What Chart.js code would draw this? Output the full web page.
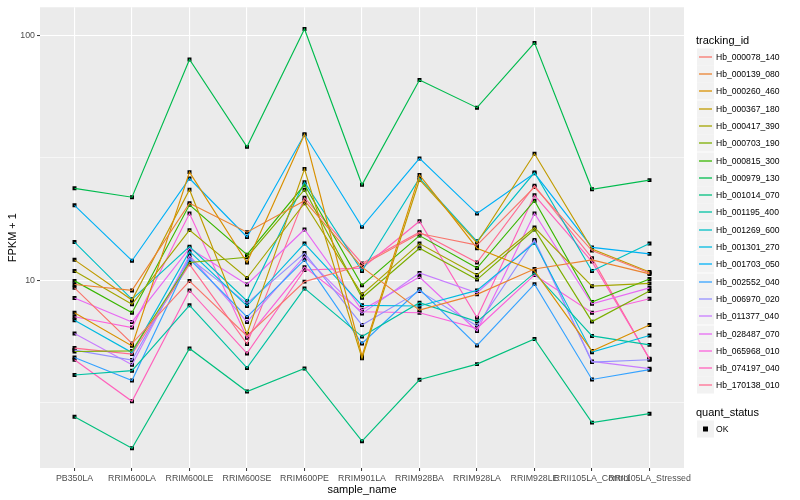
<!DOCTYPE html>
<html>
<head>
<meta charset="utf-8">
<title>FPKM by sample</title>
<script src="https://cdn.jsdelivr.net/npm/chart.js@4.4.1/dist/chart.umd.min.js"></script>
<style>
  body { margin: 0; background: #fff; font-family: "Liberation Sans", Arial, sans-serif; }
  #wrap { position: relative; width: 800px; height: 500px; }
  #legend { position: absolute; left: 696px; top: 0; width: 104px; height: 500px; }
  .ttl { position: absolute; left: 0; font-size: 11px; color: #000; line-height: 12px; }
  .lab { position: absolute; left: 20px; font-size: 8.6px; color: #000; line-height: 10px; }
</style>
</head>
<body>
<div id="wrap">
  <canvas id="grafica" width="800" height="500"></canvas>
  <div id="legend"></div>
</div>
<script>
// categorias del eje x
const sampleNames = ['PB350LA', 'RRIM600LA', 'RRIM600LE', 'RRIM600SE', 'RRIM600PE', 'RRIM901LA',
  'RRIM928BA', 'RRIM928LA', 'RRIM928LE', 'RRII105LA_Control', 'RRII105LA_Stressed'];

const trackingIds = ['Hb_000078_140', 'Hb_000139_080', 'Hb_000260_460', 'Hb_000367_180', 'Hb_000417_390',
  'Hb_000703_190', 'Hb_000815_300', 'Hb_000979_130', 'Hb_001014_070', 'Hb_001195_400', 'Hb_001269_600',
  'Hb_001301_270', 'Hb_001703_050', 'Hb_002552_040', 'Hb_006970_020', 'Hb_011377_040', 'Hb_028487_070',
  'Hb_065968_010', 'Hb_074197_040', 'Hb_170138_010'];

const lineColors = ['#F8766D', '#EA8331', '#D89000', '#C09B00', '#A3A500', '#7CAE00', '#39B600', '#00BB4E',
  '#00BF7D', '#00C1A3', '#00BFC4', '#00BAE0', '#00B0F6', '#35A2FF', '#9590FF', '#C77CFF', '#E76BF3',
  '#FA62DB', '#FF62BC', '#FF6C91'];

// FPKM + 1 por muestra (mismo orden que sampleNames)
const hb000078 = [9.30, 5.51, 9.91, 5.92, 9.86, 11.5, 15.5, 13.9, 24.0, 13.2, 10.7];
const hb000139 = [9.60, 9.08, 20.6, 15.7, 21.1, 11.3, 7.54, 8.75, 11.1, 12.1, 10.6];
const hb000260 = [7.36, 5.39, 27.6, 11.8, 39.3, 4.90, 26.9, 13.5, 10.9, 5.14, 6.56];
const hb000367 = [12.1, 8.29, 23.4, 6.03, 28.4, 4.80, 25.7, 14.2, 32.8, 13.4, 10.8];
const hb000417 = [10.9, 7.97, 16.0, 10.2, 20.6, 8.75, 14.1, 10.5, 16.4, 9.45, 9.70];
const hb000703 = [5.11, 5.14, 11.8, 12.4, 23.4, 8.47, 13.5, 10.05, 16.1, 6.77, 9.02];
const hb000815 = [9.93, 7.36, 20.3, 12.7, 24.5, 9.52, 15.2, 11.2, 21.1, 8.14, 10.1];
const hb000979 = [23.7, 21.8, 79.6, 35.0, 106, 24.5, 65.6, 50.6, 93.0, 23.5, 25.6];
const hb001014 = [2.77, 2.06, 5.26, 3.51, 4.36, 2.20, 3.92, 4.54, 5.75, 2.62, 2.85];
const hb001195 = [4.10, 4.27, 7.89, 4.38, 9.25, 5.88, 8.09, 6.77, 10.7, 5.92, 5.44];
const hb001269 = [14.3, 8.35, 13.7, 8.22, 25.1, 10.9, 26.1, 14.4, 27.5, 10.9, 14.1];
const hb001301 = [6.86, 5.06, 13.1, 7.84, 14.1, 7.89, 7.84, 9.08, 14.2, 5.08, 5.94];
const hb001703 = [20.2, 12.0, 26.0, 15.0, 39.3, 16.5, 31.4, 18.7, 27.3, 13.6, 12.8];
const hb002552 = [4.83, 3.89, 12.2, 7.07, 12.1, 5.51, 9.17, 5.41, 9.63, 3.93, 4.31];
const hb006970 = [5.18, 4.72, 12.3, 8.04, 12.9, 6.56, 9.02, 6.50, 14.6, 4.63, 4.73];
const hb011377 = [6.05, 4.51, 12.6, 6.75, 12.5, 7.30, 10.7, 8.88, 14.4, 4.66, 4.35];
const hb028487 = [8.45, 6.75, 13.5, 9.60, 16.1, 7.55, 10.3, 6.20, 18.7, 8.01, 9.30];
const hb065968 = [7.09, 6.40, 18.7, 5.81, 11.3, 7.43, 7.36, 6.36, 10.5, 7.36, 8.39];
const hb074197 = [4.73, 3.20, 9.08, 5.02, 11.0, 11.2, 17.4, 7.03, 22.2, 11.9, 4.78];
const hb170138 = [5.28, 4.99, 11.6, 5.49, 21.7, 11.7, 15.7, 11.8, 24.3, 12.3, 4.75];

const seriesValues = [hb000078, hb000139, hb000260, hb000367, hb000417, hb000703, hb000815, hb000979,
  hb001014, hb001195, hb001269, hb001301, hb001703, hb002552, hb006970, hb011377, hb028487,
  hb065968, hb074197, hb170138];

const yTicks = [Math.sqrt(10), 10, Math.sqrt(1000), 100];

// Datasets: una linea por tracking_id y al final los puntos (quant_status OK)
let datasets = [];
let allPoints = [];
for (let s = 0; s < seriesValues.length; s++) {
    const pts = seriesValues[s].map((v, i) => ({ x: i, y: v }));
    allPoints = allPoints.concat(pts);
    datasets.push({
        type: 'line',
        label: trackingIds[s],
        data: pts,
        borderColor: lineColors[s],
        borderWidth: 1.15,
        pointRadius: 0,
        tension: 0,
        fill: false
    });
}
datasets.push({
    type: 'scatter',
    label: 'OK',
    data: allPoints,
    pointStyle: 'rect',
    pointRadius: 2.8,
    pointBorderWidth: 0,
    pointBackgroundColor: '#000',
    borderColor: '#000'
});

// fondo gris del panel + cajas de la leyenda
const panelBg = {
    id: 'panelBg',
    beforeDraw(chart) {
        const a = chart.chartArea, ctx = chart.ctx;
        ctx.save();
        ctx.fillStyle = '#EBEBEB';
        ctx.fillRect(a.left, a.top, a.right - a.left, a.bottom - a.top);
        ctx.restore();
    },
    afterDraw(chart) {
        const ctx = chart.ctx;
        ctx.save();
        for (let i = 0; i < trackingIds.length; i++) {
            const cy = Math.round(56.7 + 17.3 * i);
            ctx.fillStyle = '#F2F2F2';
            ctx.fillRect(697, cy - 8.5, 17, 17);
            ctx.strokeStyle = lineColors[i];
            ctx.lineWidth = 1.3;
            ctx.beginPath();
            ctx.moveTo(699, cy);
            ctx.lineTo(712, cy);
            ctx.stroke();
        }
        ctx.fillStyle = '#F2F2F2';
        ctx.fillRect(697, 420.5, 17, 17);
        ctx.fillStyle = '#000';
        ctx.fillRect(703, 426.5, 5, 5);
        ctx.restore();
    }
};

const font = { family: '"Liberation Sans", Arial, sans-serif' };

new Chart(document.getElementById('grafica'), {
    data: { datasets: datasets },
    plugins: [panelBg],
    options: {
        responsive: false,
        animation: false,
        layout: { padding: { top: 5, right: 116, left: 2, bottom: 0 } },
        plugins: { legend: { display: false }, tooltip: { enabled: false } },
        scales: {
            x: {
                type: 'linear',
                min: -0.6,
                max: 10.6,
                afterBuildTicks: (scale) => { scale.ticks = sampleNames.map((n, i) => ({ value: i })); },
                afterFit: (scale) => { scale.height = 32; },
                ticks: {
                    autoSkip: false, maxRotation: 0, minRotation: 0, padding: 2,
                    color: '#4D4D4D', font: { ...font, size: 8.8 },
                    callback: (v) => sampleNames[v]
                },
                grid: { color: '#FFFFFF', lineWidth: 1.1, tickLength: 3, tickColor: '#333333', tickWidth: 1 },
                border: { display: false },
                title: { display: true, text: 'sample_name', color: '#000', font: { ...font, size: 11 }, padding: { top: 0, bottom: 3 } }
            },
            y: {
                type: 'logarithmic',
                min: 1.71,
                max: 130,
                afterBuildTicks: (scale) => { scale.ticks = yTicks.map(v => ({ value: v })); },
                afterFit: (scale) => { scale.width = 38; },
                ticks: {
                    padding: 2, color: '#4D4D4D', font: { ...font, size: 8.8 },
                    callback: (v) => (v === 10 || v === 100) ? String(v) : ''
                },
                grid: {
                    color: '#FFFFFF',
                    lineWidth: (c) => (c.tick && (c.tick.value === 10 || c.tick.value === 100)) ? 1.1 : 0.55,
                    tickLength: 3,
                    tickColor: (c) => (c.tick && (c.tick.value === 10 || c.tick.value === 100)) ? '#333333' : 'rgba(0,0,0,0)',
                    tickWidth: 1
                },
                border: { display: false },
                title: { display: true, text: 'FPKM + 1', color: '#000', font: { ...font, size: 11 }, padding: { top: 4, bottom: 2 } }
            }
        }
    }
});

// Textos de la leyenda estilo ggplot
const leg = document.getElementById('legend');
let html = '<div class="ttl" style="top:34px">tracking_id</div>';
for (let i = 0; i < trackingIds.length; i++) {
    const cy = 56.7 + 17.3 * i;
    html += `<div class="lab" style="top:${Math.round(cy - 5)}px">${trackingIds[i]}</div>`;
}
html += '<div class="ttl" style="top:406px">quant_status</div>';
html += '<div class="lab" style="top:424px">OK</div>';
leg.innerHTML = html;
</script>
</body>
</html>
